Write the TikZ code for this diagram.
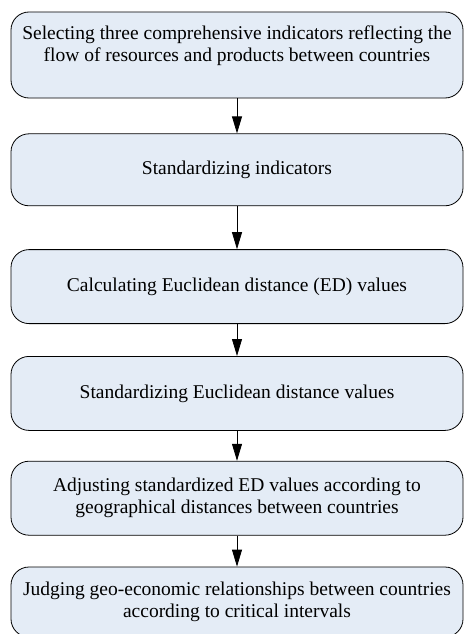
\documentclass[tikz,border=0pt]{standalone}
\usepackage{fontspec}
\setmainfont{Liberation Serif}
\usepackage{tikz}
\usetikzlibrary{shapes, arrows.meta, positioning}
\definecolor{boxblue}{RGB}{228,236,246}
\tikzstyle{block} = [draw, fill=boxblue, rectangle, rounded corners=18pt,
    line width=0.8pt, minimum width=452pt, minimum height=74pt,
    align=center, inner sep=2pt, font=\fontsize{19.5}{22}\selectfont]
\tikzstyle{line} = [draw, -{Triangle[length=17pt,width=10pt]}, line width=0.8pt]

\begin{document}
\begin{tikzpicture}[x=1pt, y=1pt, node distance=32pt]
    \useasboundingbox (0,0) rectangle (464,-634);
    \node [block, minimum height=86pt] (select) at (237,-55)
        {Selecting three comprehensive indicators reflecting the\\
         flow of resources and products between countries\\ \mbox{}};
    \node [block, minimum height=72pt, below=35pt of select] (stdind) {Standardizing indicators};
    \node [block, below=43pt of stdind] (calced) {Calculating Euclidean distance (ED) values};
    \node [block, below=32pt of calced] (stded) {Standardizing Euclidean distance values};
    \node [block, below=30pt of stded] (adjust) {Adjusting standardized ED values according to\\
        geographical distances between countries};
    \node [block, minimum height=70pt, below=31pt of adjust] (judge) {Judging geo-economic relationships between countries\\
        according to critical intervals};
    \draw [line] (select) -- (stdind);
    \draw [line] (stdind) -- (calced);
    \draw [line] (calced) -- (stded);
    \draw [line] (stded) -- (adjust);
    \draw [line] (adjust) -- (judge);
\end{tikzpicture}
\end{document}
